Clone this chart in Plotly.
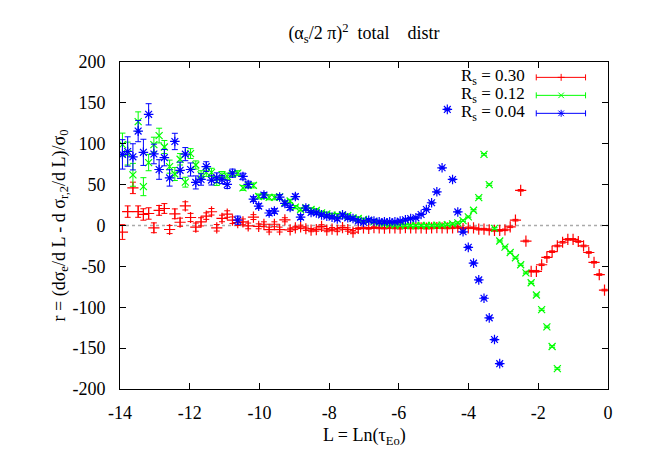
import numpy as np
import plotly.graph_objects as go

# ---- data ----
L_grid = np.linspace(-13.93, -0.10, 93)

r_030 = [-8, 17, 46, 17, 13.5, 14.7, -2.8, 18.5, 20.8, -4.9,
         14.3, 4, 24, 9.8, -2, 4.5, 11.5, 16.8, -2.8, 8.6,
         14, 6.5, 3.5, 4.5, -0.5, 10.3, -1, 1.5, -5, 1.5,
         -5, 7, -5.3, -3, -1.6, -4, -5.6, -5, -1, -5.6,
         -4.5, -5.5, -2.5, -4.9, -8, -3.7, -3, -3.5, -2.5, -3,
         -3.2, -2.8, -3, -3.3, -2.7, -3, -3, -2.8, -3.2, -3,
         -2.6, -2.8, -3, -2.8, -2, -3.7, -2.8, -2.8, -4.5, -4.5,
         -5.3, -6, -6, -5.3, -1.6, 6.5, 43, -19, -56, -56,
         -48, -39, -32, -25, -20.5, -17, -17, -19.6, -25, -33,
         -45, -60, -79]
e_030 = [9, 7, 7, 7, 7, 7, 6, 6, 6, 5,
         6, 5, 5, 5, 5, 5, 4, 4, 4, 4,
         4, 4, 3.5, 3.5, 3.5, 3, 3, 3, 3, 3,
         3, 2.5, 2, 2, 2, 2, 2, 2, 2, 2,
         2, 2, 2, 2, 2, 1, 1, 1, 1, 1,
         1, 1, 1, 1, 1, 1, 1, 1, 1, 1,
         1, 1, 1, 1, 1, 1, 1, 1, 1, 1,
         1, 1, 1, 1, 1, 1, 1, 1, 1, 1,
         1, 1, 1, 1, 1, 1, 1, 1, 1, 1,
         1, 1, 1]

r_012 = [99, 88, 62, 127, 47.5, 77, 99, 110, 96, 72,
         63, 81, 53, 88, 74, 62, 65, 65, 54, 62,
         60, 63, 64, 46, 49, 49, 35.5, 36, 34.5, 34.5,
         35, 28, 30, 22.5, 19.6, 21.7, 19.6, 18.4, 15.5, 14.3,
         12.7, 12.7, 12.7, 12, 9.4, 8.6, 7.3, 6, 4.5, 3.3,
         2, 1.2, 0.5, 0.3, 0.2, 0, 0, 0, 0, 0.2,
         0.3, 0.5, 1, 2, 3.3, 6, 10.5, 18.6, 34, 87,
         50, -3.5, -19, -26.5, -33, -39.5, -48, -58, -70, -85,
         -103, -124, -148, -175]
e_012 = [14, 14, 14, 12, 11, 10, 9, 9, 8, 8,
         8, 7, 6, 6, 5, 5, 5, 5, 5, 4,
         4, 3, 3, 3, 3, 3, 3, 3, 3, 3,
         3, 2, 2, 2, 2, 2, 2, 2, 2, 2,
         2, 2, 2, 2, 2, 2, 1, 1, 1, 1,
         1, 1, 1, 1, 1, 1, 1, 1, 1, 1,
         1, 1, 1, 1, 1, 1, 1, 1, 1, 1,
         1, 1, 1, 1, 1, 1, 1, 1, 1, 1,
         1, 1, 1, 1]

r_004 = [87, 90.5, 84, 115.5, 89.5, 136, 87.5, 68.5, 83, 58.2,
         102.8, 67.5, 87.3, 68.5, 52.7, 56.3, 72, 55.5, 58.4, 56.3,
         50.2, 64, 6.5, 60, 50.2, 32.3, 23.7, 37.3, 15.3, 17.6,
         34.8, 27, 22, 35.4, 10.3, 21.2, 16, 15.5, 13, 11.5,
         10.3, 8, 13, 9.4, 8.5, 5.5, 4, 6.5, 5.5, 4.5,
         4.5, 4.5, 4.5, 5.3, 7, 8.6, 9.4, 13.5, 19.6, 27.8,
         41.2, 70.6, 142, 56.3, 16.6, -7.7, -26.7, -46, -66.5, -89,
         -113, -139.5, -169]
e_004 = [18, 18, 16, 13, 16, 13, 12, 12, 10, 10,
         10, 10, 8, 8, 8, 7, 6, 6, 6, 5,
         5, 5, 5, 4, 4, 3, 3, 3, 3, 3,
         3, 3, 3, 3, 3, 3, 2, 2, 2, 2,
         2, 2, 2, 2, 2, 2, 2, 2, 2, 2,
         2, 1, 1, 1, 1, 1, 1, 1, 1, 1,
         1, 1, 1, 1, 1, 1, 1, 1, 1, 1,
         1, 1, 1]

labels = ["R<sub>s</sub> = 0.30", "R<sub>s</sub> = 0.12", "R<sub>s</sub> = 0.04"]
x_ticks = [-14, -12, -10, -8, -6, -4, -2, 0]
y_ticks = [-200, -150, -100, -50, 0, 50, 100, 150, 200]

RED, GREEN, BLUE = "#ff0000", "#00ff00", "#0000ff"
FONT = "Liberation Serif"
FS = 18

fig = go.Figure()

series = [
    (r_030, e_030, RED, "cross-thin", 8),
    (r_012, e_012, GREEN, "x-thin", 7),
    (r_004, e_004, BLUE, "asterisk", 8),
]
for vals, errs, col, sym, sz in series:
    n = len(vals)
    fig.add_trace(go.Scatter(
        x=L_grid[:n], y=vals, mode="markers",
        marker=dict(symbol=sym, size=sz, color=col, line=dict(width=1.2, color=col)),
        error_y=dict(type="data", array=errs, visible=True, color=col,
                     thickness=1, width=3),
        showlegend=False,
    ))

# zero axis (dotted grey)
shapes = [dict(type="line", xref="paper", x0=0, x1=1, yref="y", y0=0, y1=0,
               line=dict(color="#aaaaaa", width=1.5, dash="dot"), layer="below")]

# custom gnuplot-style key: text right, sample with caps on the right
PW, PH = 488.0, 327.0
rows = [0.953, 0.898, 0.843]
xl0, xl1, xm = 0.853, 0.954, 0.904
cap = 3.0 / PH
mx, my = 3.5 / PW, 3.5 / PH
annotations = []
for (vals, errs, col, sym, sz), yr, lab in zip(series, rows, labels):
    ln = dict(color=col, width=1)
    shapes.append(dict(type="line", xref="paper", yref="paper", x0=xl0, x1=xl1, y0=yr, y1=yr, line=ln))
    shapes.append(dict(type="line", xref="paper", yref="paper", x0=xl0, x1=xl0, y0=yr - cap, y1=yr + cap, line=ln))
    shapes.append(dict(type="line", xref="paper", yref="paper", x0=xl1, x1=xl1, y0=yr - cap, y1=yr + cap, line=ln))
    if sym in ("cross-thin", "asterisk"):
        shapes.append(dict(type="line", xref="paper", yref="paper", x0=xm - mx, x1=xm + mx, y0=yr, y1=yr, line=ln))
        shapes.append(dict(type="line", xref="paper", yref="paper", x0=xm, x1=xm, y0=yr - my, y1=yr + my, line=ln))
    if sym in ("x-thin", "asterisk"):
        shapes.append(dict(type="line", xref="paper", yref="paper", x0=xm - mx * 0.8, x1=xm + mx * 0.8, y0=yr - my * 0.8, y1=yr + my * 0.8, line=ln))
        shapes.append(dict(type="line", xref="paper", yref="paper", x0=xm - mx * 0.8, x1=xm + mx * 0.8, y0=yr + my * 0.8, y1=yr - my * 0.8, line=ln))
    annotations.append(dict(text=lab, xref="paper", yref="paper", x=0.834, y=yr,
                            xanchor="right", yanchor="middle", showarrow=False,
                            font=dict(family=FONT, size=17, color="black")))

# axis titles
annotations.append(dict(text="L = Ln(τ<sub>Eo</sub>)", xref="paper", yref="paper",
                        x=0.5, y=-47.0 / PH, xanchor="center", yanchor="middle",
                        showarrow=False, font=dict(family=FONT, size=FS, color="black")))
annotations.append(dict(text="r = (dσ<sub>e</sub>/d L - d σ<sub>r,2</sub>/d L)/σ<sub>0</sub>",
                        xref="paper", yref="paper", x=-60.0 / PW, y=0.5, textangle=-90,
                        xanchor="center", yanchor="middle", showarrow=False,
                        font=dict(family=FONT, size=FS, color="black")))

axis_common = dict(showgrid=False, zeroline=False, showline=True, linecolor="black",
                   linewidth=1, mirror="ticks", ticks="inside", ticklen=6,
                   tickcolor="black", tickwidth=1,
                   tickfont=dict(family=FONT, size=FS, color="black"))

fig.update_layout(
    width=654, height=458,
    margin=dict(l=112, r=54, t=54, b=77),
    paper_bgcolor="white", plot_bgcolor="white",
    title=dict(text="(α<sub>s</sub>/2 π)<sup>2</sup>\u00a0 total \u00a0\u00a0 distr",
               x=0.5, xref="paper", y=1 - 25 / 458, yref="container",
               xanchor="center", yanchor="middle",
               font=dict(family=FONT, size=FS, color="black")),
    xaxis=dict(range=[-14, 0], tickvals=x_ticks, ticktext=[str(v) for v in x_ticks],
               ticklabelstandoff=7, **axis_common),
    yaxis=dict(range=[-200, 200], tickvals=y_ticks, ticktext=[str(v) for v in y_ticks],
               ticklabelstandoff=10, **axis_common),
    shapes=shapes, annotations=annotations,
)

fig.write_html("out.html")
